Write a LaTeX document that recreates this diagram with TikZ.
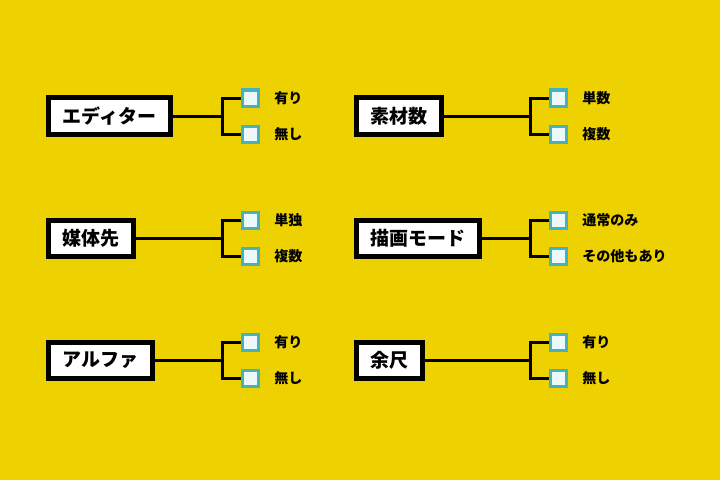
\documentclass[tikz,border=0pt]{standalone}
\usepackage{fontspec}
\usepackage{xcolor}
\usetikzlibrary{shapes, arrows.meta, positioning}
\newfontfamily\jpfont{Noto Sans CJK JP}

\definecolor{bgyellow}{RGB}{237,209,0}
\definecolor{cbteal}{RGB}{70,178,190}
\definecolor{cbfill}{RGB}{236,248,250}

\begin{document}
\begin{tikzpicture}[x=0.025cm, y=-0.025cm,
                box/.style={draw, rectangle, fill=white, line width=0.125cm, anchor=west,
                    minimum height=0.9cm, inner xsep=0.35cm,
                    font=\jpfont\bfseries\fontsize{13.5}{16}\selectfont},
                chk/.style={draw=cbteal, fill=cbfill, rectangle, line width=0.075cm,
                    minimum size=0.4cm, inner sep=0pt},
                opt/.style={right=0.35cm of #1, inner sep=0pt,
                    font=\jpfont\bfseries\fontsize{10}{12}\selectfont},
                wire/.style={line width=0.075cm}]
                \fill[bgyellow] (0,0) rectangle (720,480);

                % 左の列
                \node[box] (editor) at (46,116) {エディター};
                \node[chk] (ed1) at (250.5,98) {};
                \node[chk] (ed2) at (250.5,134) {};
                \node[opt=ed1] (ed1t) {有り};
                \node[opt=ed2] (ed2t) {無し};
                \coordinate (jed) at (222.7,116);

                \node[box] (media) at (46,238.5) {媒体先};
                \node[chk] (md1) at (250.5,220.5) {};
                \node[chk] (md2) at (250.5,256.5) {};
                \node[opt=md1] (md1t) {単独};
                \node[opt=md2] (md2t) {複数};
                \coordinate (jmd) at (222.7,238.5);

                \node[box] (alpha) at (46,360) {アルファ};
                \node[chk] (al1) at (250.5,342) {};
                \node[chk] (al2) at (250.5,378) {};
                \node[opt=al1] (al1t) {有り};
                \node[opt=al2] (al2t) {無し};
                \coordinate (jal) at (222.7,360);

                % 右の列
                \node[box] (material) at (354,116) {素材数};
                \node[chk] (mt1) at (558.5,98) {};
                \node[chk] (mt2) at (558.5,134) {};
                \node[opt=mt1] (mt1t) {単数};
                \node[opt=mt2] (mt2t) {複数};
                \coordinate (jmt) at (530,116);

                \node[box] (drawmode) at (354,238.5) {描画モード};
                \node[chk] (dm1) at (558.5,220.5) {};
                \node[chk] (dm2) at (558.5,256.5) {};
                \node[opt=dm1] (dm1t) {通常のみ};
                \node[opt=dm2] (dm2t) {その他もあり};
                \coordinate (jdm) at (530,238.5);

                \node[box] (margin) at (354,360) {余尺};
                \node[chk] (mg1) at (558.5,342) {};
                \node[chk] (mg2) at (558.5,378) {};
                \node[opt=mg1] (mg1t) {有り};
                \node[opt=mg2] (mg2t) {無し};
                \coordinate (jmg) at (530,360);

                \draw[wire] (editor.east) -- (jed);
                \draw[wire] (ed1.west) -| (jed) |- (ed2.west);
                \draw[wire] (media.east) -- (jmd);
                \draw[wire] (md1.west) -| (jmd) |- (md2.west);
                \draw[wire] (alpha.east) -- (jal);
                \draw[wire] (al1.west) -| (jal) |- (al2.west);
                \draw[wire] (material.east) -- (jmt);
                \draw[wire] (mt1.west) -| (jmt) |- (mt2.west);
                \draw[wire] (drawmode.east) -- (jdm);
                \draw[wire] (dm1.west) -| (jdm) |- (dm2.west);
                \draw[wire] (margin.east) -- (jmg);
                \draw[wire] (mg1.west) -| (jmg) |- (mg2.west);
            \end{tikzpicture}
\end{document}
